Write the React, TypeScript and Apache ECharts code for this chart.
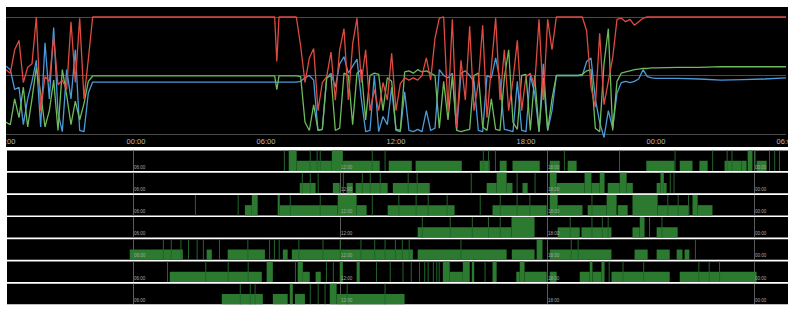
import React, { useEffect, useRef } from "react";
import * as echarts from "echarts";

// ---------- Top chart data (hours since day-1 00:00, values 0-100) ----------
const topHours = [
  18.0, 18.2, 18.4, 18.6, 18.8, 19.0, 19.2, 19.4, 19.6, 19.8, 20.0, 20.2, 20.4, 20.6, 20.8, 21.0, 21.2, 21.4, 21.6, 21.8, 22.0,
  30.4, 30.5, 30.6, 31.4,
  31.6, 31.8, 32.0, 32.2, 32.4, 32.6, 32.8, 33.0, 33.2, 33.4, 33.6, 33.8, 34.0, 34.2, 34.4, 34.6, 34.8, 35.0, 35.2, 35.4,
  35.6, 35.8, 36.0, 36.2, 36.4, 36.6, 36.8, 37.0, 37.2, 37.4, 37.6, 37.8, 38.0, 38.2, 38.4, 38.6, 38.8, 39.0, 39.2, 39.4,
  39.6, 39.8, 40.0, 40.2, 40.4, 40.6, 40.8, 41.0, 41.2, 41.4, 41.6, 41.8, 42.0, 42.2, 42.4, 42.6, 42.8, 43.0, 43.2, 43.4,
  44.4,
  44.6, 44.8, 45.0, 45.2, 45.4, 45.6, 45.8, 46.0, 46.2, 46.4, 46.6, 46.8, 47.0, 47.2, 47.4, 47.6, 47.8, 48.0,
  49, 50, 51, 52, 53, 54,
];

const redValues = [
  55, 52, 72, 80, 44, 57, 60, 100, 20, 49, 45, 83, 42, 46, 38, 96, 44, 99, 30, 64, 100,
  100, 62, 100, 100,
  75, 44, 65, 73, 20, 44, 49, 70, 29, 72, 90, 29, 77, 99, 44, 72, 20, 38, 20, 44,
  29, 69, 20, 43, 48, 46, 48, 46, 50, 65, 46, 82, 99, 100, 20, 98, 6, 63, 29, 92,
  20, 44, 93, 14, 57, 99, 29, 72, 20, 46, 80, 20, 49, 52, 41, 98, 29, 98, 72, 100,
  100,
  100, 88, 40, 23, 86, 25, 45, 65, 98, 99, 96, 98, 93, 96, 99, 100, 100, 100,
  100, 100, 100, 100, 100, 100,
];

const greenValues = [
  10, 8, 30, 14, 40, 6, 30, 57, 35, 6, 20, 46, 3, 55, 33, 8, 28, 12, 26, 45, 49.6,
  49.6, 38, 49.6, 49.6,
  49, 10, 3, 25, 3, 4, 48, 50, 3, 5, 52, 50, 8, 52, 55, 12, 50, 52, 51, 20,
  48, 45, 4, 3, 53, 54, 52, 55, 53, 54, 52, 50, 5, 45, 12, 50, 3, 2, 3, 4,
  50, 52, 6, 3, 30, 4, 3, 48, 72, 10, 4, 50, 51, 3, 50, 2, 48, 3, 30, 50,
  50,
  51, 54, 55, 5, 2, 60, 90, 3, 45, 52, 53, 54, 55, 55.5, 56, 56, 56.5, 56.5,
  57, 57, 57.5, 57.5, 57.5, 57.5,
];

const blueValues = [
  58, 55, 38, 40, 8, 30, 45, 63, 6, 78, 30, 91, 18, 2, 55, 30, 72, 3, 2, 35, 44.4,
  44.4, 44.4, 44.4, 44.4,
  45, 48, 50, 46, 3, 4, 48, 52, 40, 60, 66, 52, 58, 64, 30, 2, 3, 50, 2, 15,
  8, 40, 3, 2, 36, 3, 2, 4, 2, 20, 3, 5, 55, 50, 48, 52, 3, 52, 54, 50,
  45, 3, 2, 50, 48, 65, 46, 4, 3, 2, 45, 3, 2, 50, 35, 2, 60, 3, 20, 50,
  50,
  50, 62, 65, 30, 10, -3, 20, 5, 35, 44, 45, 44, 45, 47, 55, 49, 48, 47.5,
  47.5, 47, 46, 46.5, 47, 48,
];

const topAxisMin = 18;
const topAxisMax = 54;
const topAxisStep = 6;

// ---------- Strip data: [startHour, endHour, level] (level 1 = full, 0.5 = half) ----------
const strip1Blocks = [
  [10.52, 10.75, 1], [10.75, 11.77, 0.5], [11.77, 12.09, 1], [12.09, 13.16, 0.5], [13.42, 14.09, 0.5],
  [14.2, 15.54, 0.5], [16.06, 16.35, 0.5], [16.64, 16.84, 0.5], [17.01, 17.8, 0.5], [18.09, 18.38, 0.5],
  [18.61, 18.87, 0.5], [20.89, 21.71, 0.5], [21.86, 22.23, 0.5], [22.43, 22.67, 0.5], [23.16, 23.65, 0.5],
  [23.65, 23.8, 0.5], [23.83, 23.97, 1], [24.09, 24.38, 0.5],
];
const strip2Blocks = [
  [10.84, 11.3, 0.5], [11.8, 12.0, 0.5], [12.2, 12.38, 0.5], [12.46, 13.39, 0.5], [13.54, 14.61, 0.5],
  [16.26, 16.55, 0.5], [16.55, 16.84, 1], [16.84, 17.01, 0.5], [17.3, 17.45, 0.5], [18.09, 18.29, 1],
  [18.29, 19.1, 0.5], [19.1, 19.3, 1], [19.3, 19.54, 0.5], [19.54, 19.68, 1], [19.77, 20.12, 0.5],
  [20.12, 20.32, 1], [20.32, 20.5, 0.5], [21.19, 21.3, 0.5], [21.3, 21.4, 1], [21.4, 21.48, 0.5],
];
const strip3Blocks = [
  [9.25, 9.45, 0.5], [9.45, 9.62, 1], [10.2, 10.26, 1], [10.26, 11.94, 0.5], [11.94, 12.49, 1],
  [12.49, 12.78, 0.5], [13.39, 15.33, 0.5], [16.43, 18.0, 0.5], [18.09, 18.32, 1], [18.32, 19.04, 0.5],
  [19.19, 19.74, 0.5], [19.74, 20.03, 1], [20.06, 20.35, 0.5], [20.49, 21.22, 1], [21.22, 22.14, 0.5],
  [22.23, 22.38, 1], [22.38, 22.81, 0.5],
];
const strip4Blocks = [
  [14.26, 16.98, 0.5], [16.98, 17.65, 1], [18.32, 18.96, 0.5], [19.01, 19.88, 0.5], [20.49, 20.7, 0.5],
  [20.7, 20.84, 1], [21.19, 21.8, 0.5],
];
const strip5Blocks = [
  [5.91, 7.45, 0.5], [8.14, 8.29, 0.5], [8.75, 9.83, 0.5], [10.35, 10.49, 0.5], [10.61, 14.12, 0.5],
  [14.26, 16.84, 0.5], [16.99, 17.65, 0.5], [17.71, 17.88, 1], [18.09, 19.88, 0.5], [20.55, 20.93, 0.5],
  [21.19, 21.57, 0.5], [21.77, 21.94, 0.5], [22.0, 22.14, 0.5],
];
const strip6Blocks = [
  [7.07, 9.74, 0.5], [9.88, 10.06, 1], [10.78, 10.93, 1], [10.93, 11.13, 0.5], [11.3, 11.45, 0.5],
  [12.0, 12.09, 1], [12.49, 12.58, 1], [14.99, 15.19, 1], [15.19, 15.57, 0.5], [15.57, 15.77, 1],
  [15.83, 15.9, 1], [16.43, 16.55, 1], [17.12, 17.22, 0.5], [17.22, 17.36, 1], [17.36, 18.0, 0.5],
  [18.09, 18.29, 0.5], [18.96, 19.25, 0.5], [19.25, 19.33, 1], [19.33, 19.59, 0.5], [19.59, 19.68, 1],
  [19.88, 21.57, 0.5], [21.86, 24.09, 0.5],
];
const strip7Blocks = [
  [8.58, 9.77, 0.5], [10.06, 10.49, 0.5], [10.55, 10.64, 1], [10.7, 10.99, 0.5], [11.71, 11.91, 1],
  [11.91, 13.88, 0.5],
];

// thin full-height marks (hours)
const strip1Spikes = [10.38, 11.13, 11.33, 11.42, 12.93, 13.3, 16.15, 16.3, 16.5, 18.5, 20.1, 21.71, 22.8, 23.22, 23.36, 24.03, 24.45, 24.6, 24.74];
const strip2Spikes = [10.9, 11.13, 11.36, 12.09, 12.64, 12.87, 13.16, 13.97, 14.23, 15.8, 17.13, 17.65, 21.57, 21.68];
const strip3Spikes = [7.8, 9.04, 10.55, 11.42, 12.93, 13.7, 14.2, 14.55, 15.1, 16.06, 16.64, 17.13, 17.5, 19.3, 21.5, 21.8, 22.1];
const strip4Spikes = [14.38, 15.19, 15.83, 16.3, 16.64, 18.67, 19.3, 19.6, 19.77, 20.97, 21.33];
const strip5Spikes = [6.87, 7.1, 7.38, 7.6, 7.85, 8.03, 8.5, 9.32, 9.95, 10.09, 10.23, 10.8, 11.5, 12.0, 12.6, 13.0, 13.3, 13.6, 13.8, 14.0, 15.5, 18.7, 18.9, 22.3];
const strip6Spikes = [6.99, 8.1, 8.75, 9.33, 10.7, 11.6, 11.8, 13.05, 13.45, 13.82, 14.06, 14.3, 14.45, 14.55, 14.7, 14.8, 14.87, 16.2, 19.8, 20.2, 20.8, 22.4, 22.7, 23.0];
const strip7Spikes = [9.1, 9.39, 9.53, 11.13, 11.36, 11.56, 12.2, 13.3];

const stripBlocks = [strip1Blocks, strip2Blocks, strip3Blocks, strip4Blocks, strip5Blocks, strip6Blocks, strip7Blocks];
const stripSpikes = [strip1Spikes, strip2Spikes, strip3Spikes, strip4Spikes, strip5Spikes, strip6Spikes, strip7Spikes];
const stripTickHours = [6, 12, 18, 24];
const stripTickLabels = ["06:00", "12:00", "18:00", "00:00"];
const stripMin = 2.35;
const stripMax = 25;

const RED = "#de4b42";
const GREEN = "#6dbb5c";
const BLUE = "#4b9ad9";
const BLOCK_GREEN = "#2b7a2f";
const SPIKE_GREEN = "#22662a";

const FONT = '"Liberation Sans", Arial, sans-serif';

export default function App() {
  const topRef = useRef<HTMLDivElement>(null);
  const stripRef = useRef<HTMLDivElement>(null);

  useEffect(() => {
    const top = echarts.init(topRef.current!, null, { renderer: "svg" });
    const mk = (vals: number[]) => topHours.map((h, i) => [h, vals[i]]);
    const lineSeries = (name: string, color: string, vals: number[]) => ({
      name,
      type: "line",
      data: mk(vals),
      showSymbol: false,
      symbol: "none",
      clip: false,
      lineStyle: { color, width: 1.3 },
      itemStyle: { color },
    });
    top.setOption({
      animation: false,
      backgroundColor: "#000",
      grid: { left: 20, right: 22, top: 10, height: 117 },
      xAxis: {
        type: "value",
        min: topAxisMin,
        max: topAxisMax,
        interval: topAxisStep,
        axisLine: { show: false },
        axisTick: { show: false },
        splitLine: { show: false },
        axisLabel: {
          color: "#bdbdbd",
          fontSize: 7.5,
          fontFamily: FONT,
          margin: 3,
          showMinLabel: true,
          showMaxLabel: true,
          hideOverlap: false,
          formatter: (v: number) => String(v % 24).padStart(2, "0") + ":00",
        },
      },
      yAxis: {
        type: "value",
        min: 0,
        max: 100,
        interval: 50,
        axisLine: { show: false },
        axisTick: { show: false },
        axisLabel: { show: false },
        splitLine: { lineStyle: { color: "#4a4a4a", width: 1 } },
      },
      series: [
        lineSeries("blue", BLUE, blueValues),
        lineSeries("green", GREEN, greenValues),
        lineSeries("red", RED, redValues),
      ],
    });

    const strips = echarts.init(stripRef.current!, null, { renderer: "svg" });
    const grids = stripBlocks.map((_, i) => ({
      left: 0,
      right: 0,
      top: 0.5 + i * 22.2,
      height: 20.5,
      show: true,
      backgroundColor: "#000",
      borderWidth: 0,
    }));
    const xAxes = stripBlocks.map((_, i) => ({ type: "value", gridIndex: i, min: stripMin, max: stripMax, show: false }));
    const yAxes = stripBlocks.map((_, i) => ({ type: "value", gridIndex: i, min: 0, max: 1, show: false }));
    const series: any[] = [];
    stripBlocks.forEach((blocks, i) => {
      series.push({
        type: "custom",
        coordinateSystem: "cartesian2d",
        xAxisIndex: i,
        yAxisIndex: i,
        z: 1,
        data: stripTickHours.map((h) => [h]),
        renderItem: (_p: any, api: any) => {
          const a = api.coord([api.value(0), 0]);
          const b = api.coord([api.value(0), 1]);
          const x = Math.round(a[0]) + 0.5;
          return {
            type: "line",
            shape: { x1: x, y1: a[1], x2: x, y2: b[1] },
            style: { stroke: "#5a5a5a", lineWidth: 1 },
          };
        },
      });
      series.push({
        type: "custom",
        coordinateSystem: "cartesian2d",
        xAxisIndex: i,
        yAxisIndex: i,
        z: 2,
        encode: { x: [0, 1], y: 2 },
        data: blocks,
        renderItem: (_p: any, api: any) => {
          const p0 = api.coord([api.value(0), 0]);
          const p1 = api.coord([api.value(1), api.value(2)]);
          return {
            type: "rect",
            shape: { x: p0[0], y: p1[1], width: Math.max(p1[0] - p0[0], 1), height: p0[1] - p1[1] },
            style: { fill: BLOCK_GREEN },
          };
        },
      });
      series.push({
        type: "custom",
        coordinateSystem: "cartesian2d",
        xAxisIndex: i,
        yAxisIndex: i,
        z: 3,
        data: stripSpikes[i].map((h) => [h]),
        renderItem: (_p: any, api: any) => {
          const a = api.coord([api.value(0), 0]);
          const b = api.coord([api.value(0), 1]);
          return {
            type: "rect",
            shape: { x: a[0], y: b[1], width: 1, height: a[1] - b[1] },
            style: { fill: SPIKE_GREEN },
          };
        },
      });
      series.push({
        type: "custom",
        coordinateSystem: "cartesian2d",
        xAxisIndex: i,
        yAxisIndex: i,
        z: 4,
        data: stripTickHours.map((h, k) => [h, k]),
        renderItem: (_p: any, api: any) => {
          const a = api.coord([api.value(0), 0]);
          const k = api.value(1);
          return {
            type: "text",
            x: Math.round(a[0]) + 1,
            y: a[1] - 1.5,
            style: {
              text: stripTickLabels[k],
              fill: "#a8a8a8",
              font: "4.5px " + FONT,
              textAlign: "left",
              align: "left",
              textVerticalAlign: "bottom",
              verticalAlign: "bottom",
            },
          };
        },
      });
    });
    strips.setOption({
      animation: false,
      backgroundColor: "#fff",
      grid: grids,
      xAxis: xAxes,
      yAxis: yAxes,
      series,
    });

    return () => {
      top.dispose();
      strips.dispose();
    };
  }, []);

  return (
    <div style={{ position: "absolute", left: 0, top: 0, width: 800, height: 314, background: "#fff", overflow: "hidden" }}>
      <div style={{ position: "absolute", left: 6, top: 7, width: 782, height: 140, background: "#000", overflow: "hidden" }}>
        <div ref={topRef} style={{ position: "absolute", left: -20, top: 0, width: 822, height: 140 }} />
      </div>
      <div ref={stripRef} style={{ position: "absolute", left: 7, top: 150, width: 781, height: 156 }} />
    </div>
  );
}
